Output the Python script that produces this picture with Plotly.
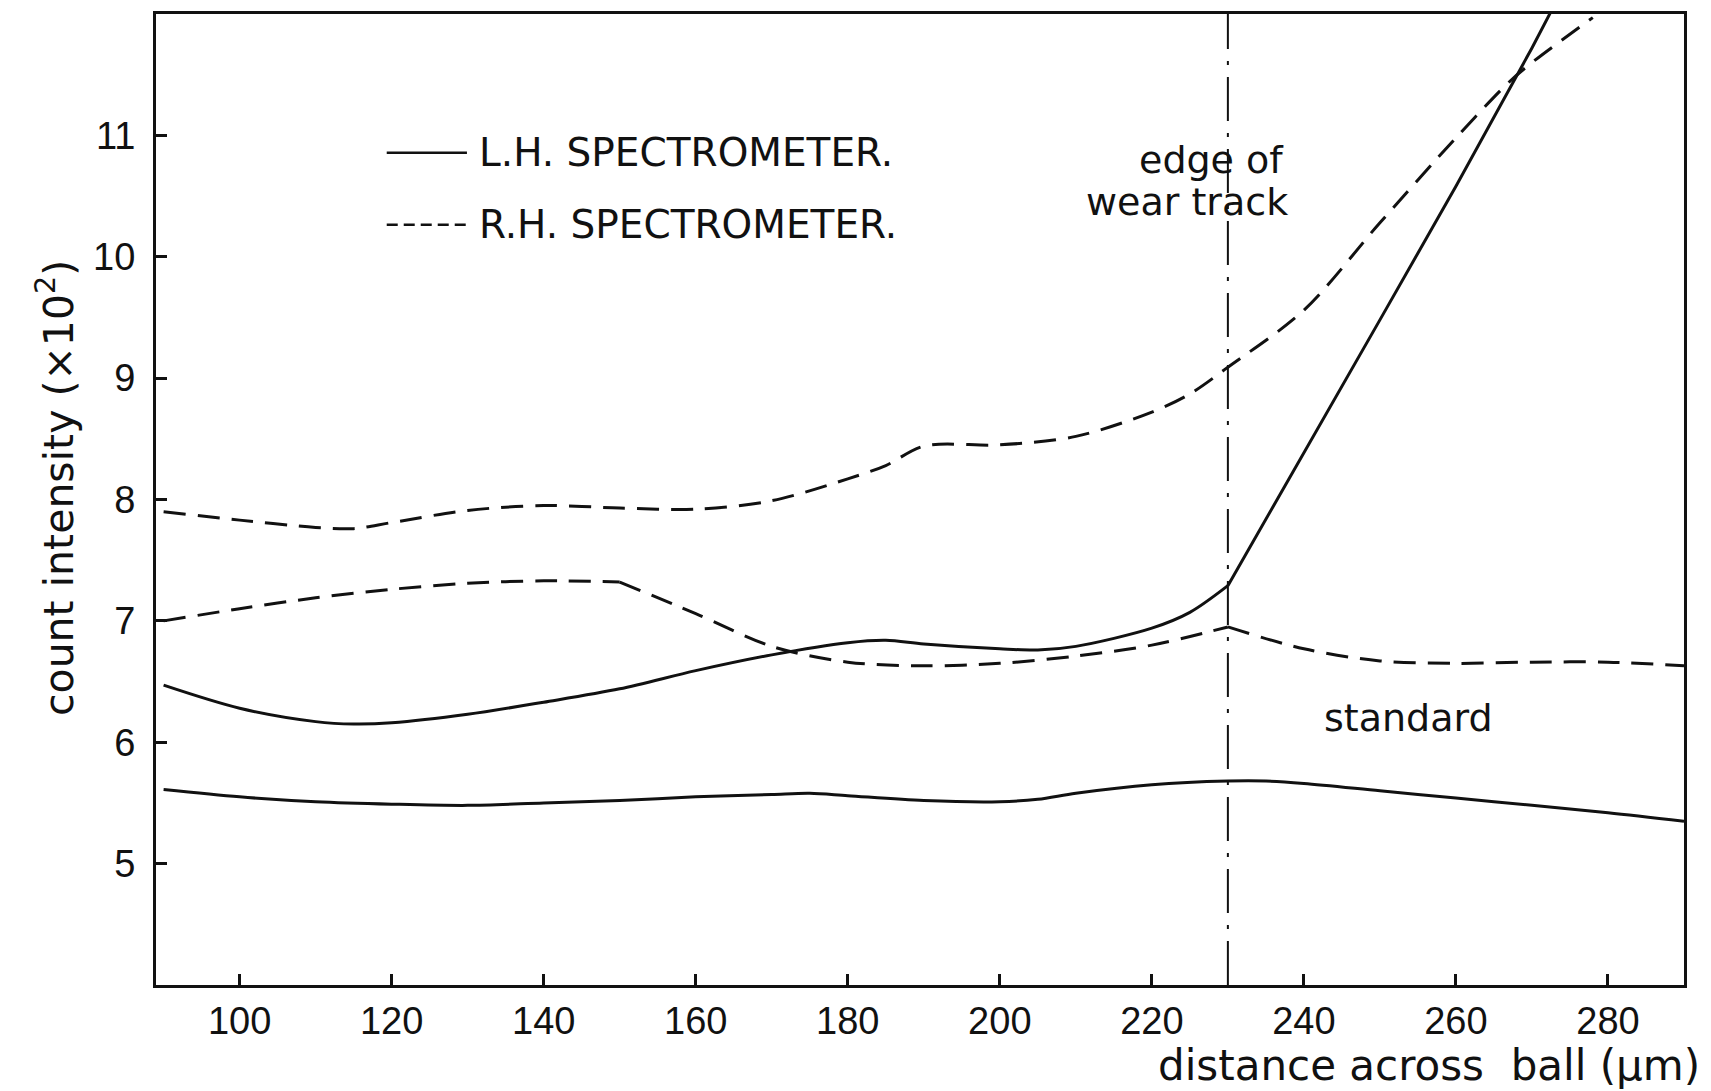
import plotly.graph_objects as go

# Distance across the ball (micrometres) at which each trace was read
lh_x = [90, 100, 110, 115, 120, 130, 140, 150, 160, 170, 180, 185, 190, 200, 205, 210, 220, 225, 230,
        240, 250, 260, 270, 273]
lh_y = [6.47, 6.28, 6.17, 6.15, 6.16, 6.23, 6.33, 6.44, 6.59, 6.72, 6.82, 6.84, 6.81, 6.77, 6.76, 6.79, 6.94, 7.07, 7.29,
        8.38, 9.48, 10.58, 11.72, 12.08]
lh_breaks = [230]

rh_upper_x = [90, 100, 110, 115, 120, 130, 140, 150, 160, 170, 180, 185, 190, 200, 210, 220, 225, 230,
              240, 250, 260, 267, 270, 278]
rh_upper_y = [7.90, 7.83, 7.77, 7.76, 7.81, 7.91, 7.95, 7.93, 7.92, 7.99, 8.17, 8.28, 8.44, 8.45, 8.52, 8.72, 8.87, 9.09,
              9.56, 10.28, 10.98, 11.44, 11.60, 11.97]
rh_upper_breaks = []

rh_lower_x = [90, 100, 110, 120, 130, 140, 150, 160, 170, 180, 190, 200, 210, 220, 230,
              240, 250, 260, 270, 280, 290]
rh_lower_y = [7.00, 7.10, 7.19, 7.26, 7.31, 7.33, 7.32, 7.06, 6.79, 6.66, 6.63, 6.65, 6.71, 6.80, 6.95,
              6.77, 6.67, 6.65, 6.66, 6.66, 6.63]
rh_lower_breaks = [150, 230]

std_x = [90, 100, 110, 120, 130, 140, 150, 160, 170, 175, 180, 190, 200, 205, 210, 220, 230, 235,
         240, 250, 260, 270, 280, 290]
std_y = [5.61, 5.55, 5.51, 5.49, 5.48, 5.50, 5.52, 5.55, 5.57, 5.58, 5.56, 5.52, 5.51, 5.53, 5.58, 5.65, 5.68, 5.68,
         5.66, 5.60, 5.54, 5.48, 5.42, 5.35]
std_breaks = []

wear_edge_x = 230

x_ticks = [100, 120, 140, 160, 180, 200, 220, 240, 260, 280]
y_ticks = [5, 6, 7, 8, 9, 10, 11]

legend_labels = ["L.H. SPECTROMETER.", "R.H. SPECTROMETER."]

INK = "#111111"
TEXT_FONT = "DejaVu Sans, Liberation Sans, sans-serif"
NUM_FONT = "Liberation Sans, Arial, sans-serif"
DASH = "22px,12px"


def pieces(xs, ys, breaks):
    """Split a curve at its sharp corners so each smooth run is splined on its own."""
    cuts = [0] + [xs.index(b) for b in breaks] + [len(xs) - 1]
    for a, b in zip(cuts[:-1], cuts[1:]):
        yield xs[a:b + 1], ys[a:b + 1]


fig = go.Figure()

series = [
    (lh_x, lh_y, lh_breaks, "solid", {230: "linear"}),
    (rh_upper_x, rh_upper_y, rh_upper_breaks, DASH, {}),
    (rh_lower_x, rh_lower_y, rh_lower_breaks, DASH, {}),
    (std_x, std_y, std_breaks, "solid", {}),
]
for xs, ys, brk, dash, shapes in series:
    for px, py in pieces(xs, ys, brk):
        shape = shapes.get(px[0], "spline")
        fig.add_trace(go.Scatter(
            x=px, y=py, mode="lines", showlegend=False, hoverinfo="skip",
            line=dict(color=INK, width=3, dash=dash, shape=shape, smoothing=0.9),
        ))

# edge of the wear track
fig.add_trace(go.Scatter(
    x=[wear_edge_x, wear_edge_x], y=[4, 12], mode="lines", showlegend=False, hoverinfo="skip",
    line=dict(color=INK, width=2, dash="44px,12px,4px,12px"),
))

axis_common = dict(
    showline=True, linewidth=3, linecolor=INK, mirror=True,
    ticks="inside", ticklen=11, tickwidth=2.5, tickcolor=INK,
    showgrid=False, zeroline=False,
    tickfont=dict(family=NUM_FONT, size=38, color=INK),
)
fig.update_xaxes(range=[89, 290], tickvals=x_ticks, ticktext=[str(v) for v in x_ticks],
                 ticklabelstandoff=0, **axis_common)
fig.update_yaxes(range=[4, 12], tickvals=y_ticks, ticktext=[str(v) for v in y_ticks],
                 ticklabelstandoff=10, **axis_common)

# key in the upper left
key_x0, key_x1, key_tx = 0.151, 0.2035, 0.210
key_rows = [(0.857, "solid"), (0.783, "dash")]
for (ky, kd), label in zip(key_rows, legend_labels):
    fig.add_shape(type="line", xref="paper", yref="paper", x0=key_x0, x1=key_x1, y0=ky, y1=ky,
                  line=dict(color=INK, width=2.5, dash="11px,6px" if kd == "dash" else "solid"))
    fig.add_annotation(xref="paper", yref="paper", x=key_tx, y=ky, text=label, showarrow=False,
                       xanchor="left", yanchor="middle",
                       font=dict(family=TEXT_FONT, size=39, color=INK))

text_notes = [
    (227.9, 10.80, "edge of"),
    (224.6, 10.45, "wear track"),
    (253.8, 6.20, "standard"),
]
for tx, ty, t in text_notes:
    fig.add_annotation(x=tx, y=ty, text=t, showarrow=False, xanchor="center", yanchor="middle",
                       font=dict(family=TEXT_FONT, size=38, color=INK))

fig.add_annotation(xref="paper", yref="paper", x=-0.066, y=0.512, textangle=-90,
                   text="count intensity (×10<sup>2</sup>)", showarrow=False,
                   xanchor="center", yanchor="middle",
                   font=dict(family=TEXT_FONT, size=41, color=INK))
fig.add_annotation(xref="paper", yref="paper", x=1.012, y=-0.083,
                   text="distance across  ball (μm)", showarrow=False,
                   xanchor="right", yanchor="middle",
                   font=dict(family=TEXT_FONT, size=42, color=INK))

fig.update_layout(
    width=1711, height=1091,
    margin=dict(l=156, r=27, t=11, b=106),
    paper_bgcolor="white", plot_bgcolor="white",
)

fig.write_html("out.html")
